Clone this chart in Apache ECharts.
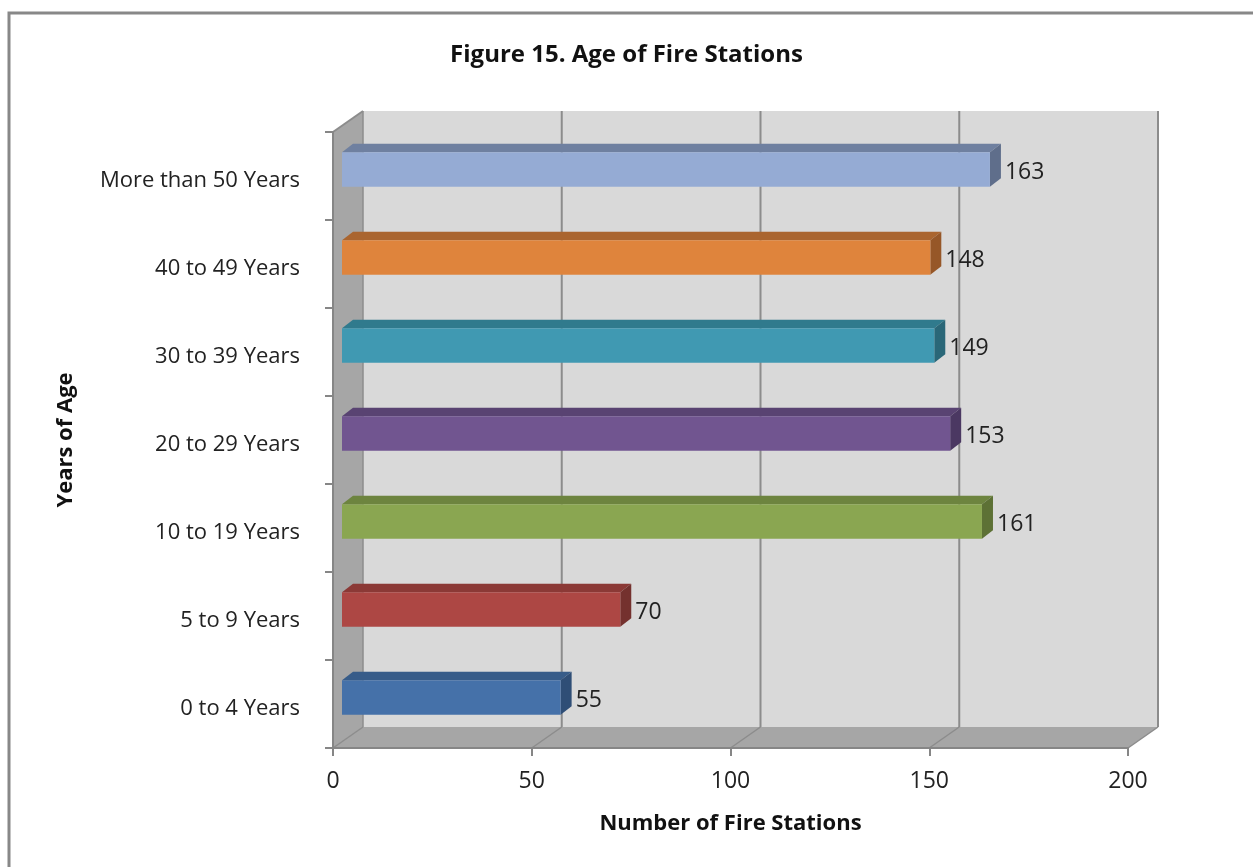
<!DOCTYPE html>
<html>
<head>
<meta charset="utf-8">
<script src="https://cdn.jsdelivr.net/npm/echarts@6/dist/echarts.min.js"></script>
<style>html,body{margin:0;padding:0;background:#fff;}#c{width:1253px;height:867px;}</style>
</head>
<body>
<div id="c"></div>
<script>
const categories = ['0 to 4 Years','5 to 9 Years','10 to 19 Years','20 to 29 Years','30 to 39 Years','40 to 49 Years','More than 50 Years'];
const values = [55, 70, 161, 153, 149, 148, 163];
const xTicks = [0, 50, 100, 150, 200];
const faceColors = ['#4571a9','#ad4744','#8aa651','#715590','#4099b2','#df843c','#95abd4'];
const topColors  = ['#375c89','#8b3936','#6d843f','#594372','#307a8d','#aa652f','#6f80a0'];
const sideColors = ['#2f4e76','#74312e','#5d7135','#4b3862','#2a6778','#965728','#5f6e8b'];

const FONT = '"Open Sans", sans-serif';
const DEPTH_X = 30, DEPTH_Y = -21;   // wall depth
const chart = echarts.init(document.getElementById('c'));

function wallsRender(params, api) {
  const cs = params.coordSys;
  const x0 = cs.x, y0 = cs.y, x1 = cs.x + cs.width, y1 = cs.y + cs.height;
  const dx = DEPTH_X, dy = DEPTH_Y;
  const children = [
    { type: 'polygon', shape: { points: [[x0, y0], [x0+dx, y0+dy], [x0+dx, y1+dy], [x0, y1]] }, style: { fill: '#a6a6a6' } },
    { type: 'rect', shape: { x: x0+dx, y: y0+dy, width: x1-x0, height: y1-y0 }, style: { fill: '#d9d9d9' } },
    { type: 'polygon', shape: { points: [[x0, y1], [x0+dx, y1+dy], [x1+dx, y1+dy], [x1, y1]] }, style: { fill: '#a6a6a6' } },
    { type: 'line', shape: { x1: x0, y1: y0, x2: x0+dx, y2: y0+dy }, style: { stroke: '#8c8c8c', lineWidth: 2 } },
    { type: 'line', shape: { x1: x0+dx, y1: y0+dy, x2: x0+dx, y2: y1+dy }, style: { stroke: '#8c8c8c', lineWidth: 1.5 } }
  ];
  xTicks.forEach(function (t) {
    const px = api.coord([t, 0])[0];
    if (t > 0) {
      children.push({ type: 'line', shape: { x1: px+dx, y1: y0+dy, x2: px+dx, y2: y1+dy }, style: { stroke: '#8c8c8c', lineWidth: 2 } });
    }
    children.push({ type: 'line', shape: { x1: px, y1: y1, x2: px+dx, y2: y1+dy }, style: { stroke: '#8c8c8c', lineWidth: 1.5 } });
  });
  return { type: 'group', children: children };
}

function barRender(params, api) {
  const v = api.value(0), ci = api.value(1);
  const base = api.coord([0, ci]);
  const end = api.coord([v, ci]);
  const band = api.size([0, 1])[1];
  const shiftX = 9, shiftY = -6.5;       // bar front plane depth
  const bdx = 11, bdy = -8.5;            // bar thickness in depth
  const h = band * 0.39;
  const xl = base[0] + shiftX, xr = end[0] + shiftX;
  const yc = base[1] + shiftY;
  const yt = yc - h / 2, yb = yc + h / 2;
  return {
    type: 'group',
    children: [
      { type: 'polygon', shape: { points: [[xl, yt], [xl+bdx, yt+bdy], [xr+bdx, yt+bdy], [xr, yt]] }, style: { fill: topColors[ci] } },
      { type: 'polygon', shape: { points: [[xr, yt], [xr+bdx, yt+bdy], [xr+bdx, yb+bdy], [xr, yb]] }, style: { fill: sideColors[ci] } },
      { type: 'rect', shape: { x: xl, y: yt, width: xr - xl, height: h }, style: { fill: faceColors[ci] } },
      { type: 'text', style: { text: String(v), x: xr + bdx + 4, y: yc + 3, verticalAlign: 'middle', align: 'left', fill: '#222', font: '23px ' + FONT } }
    ]
  };
}

chart.setOption({
  animation: false,
  backgroundColor: '#ffffff',
  title: {
    text: 'Figure 15. Age of Fire Stations',
    left: 'center', top: 38,
    textStyle: { fontFamily: FONT, fontWeight: 'bold', fontSize: 24, color: '#111' }
  },
  graphic: [
    { type: 'rect', shape: { x: 9, y: 13, width: 1260, height: 880 }, style: { fill: 'none', stroke: '#888888', lineWidth: 3 }, z: 100 }
  ],
  grid: { left: 333, top: 132, width: 795, height: 616 },
  xAxis: {
    type: 'value', min: 0, max: 200, interval: 50,
    name: 'Number of Fire Stations', nameLocation: 'middle', nameGap: 65,
    nameTextStyle: { fontFamily: FONT, fontWeight: 'bold', fontSize: 22, color: '#111' },
    axisLine: { show: true, lineStyle: { color: '#868686', width: 2 } },
    axisTick: { show: true, length: 8, lineStyle: { color: '#868686', width: 2 } },
    axisLabel: { fontFamily: FONT, fontSize: 23, color: '#222', margin: 22 },
    splitLine: { show: false }
  },
  yAxis: {
    type: 'category', data: categories,
    name: 'Years of Age', nameLocation: 'middle', nameGap: 256,
    nameTextStyle: { fontFamily: FONT, fontWeight: 'bold', fontSize: 22, color: '#111' },
    axisLine: { show: true, lineStyle: { color: '#868686', width: 2 } },
    axisTick: { show: true, length: 8, lineStyle: { color: '#868686', width: 2 } },
    axisLabel: {
      margin: 33,
      formatter: function (v) { return '{a|' + v + '}'; },
      rich: { a: { fontFamily: FONT, fontSize: 22, color: '#222', padding: [10, 0, 0, 0] } }
    },
    splitLine: { show: false }
  },
  series: [
    { type: 'custom', renderItem: wallsRender, data: [[0, 0]], z: 0, silent: true },
    { type: 'custom', renderItem: barRender, data: values.map(function (v, i) { return [v, i]; }), encode: { x: 0, y: 1 }, z: 5 }
  ]
});
</script>
</body>
</html>
